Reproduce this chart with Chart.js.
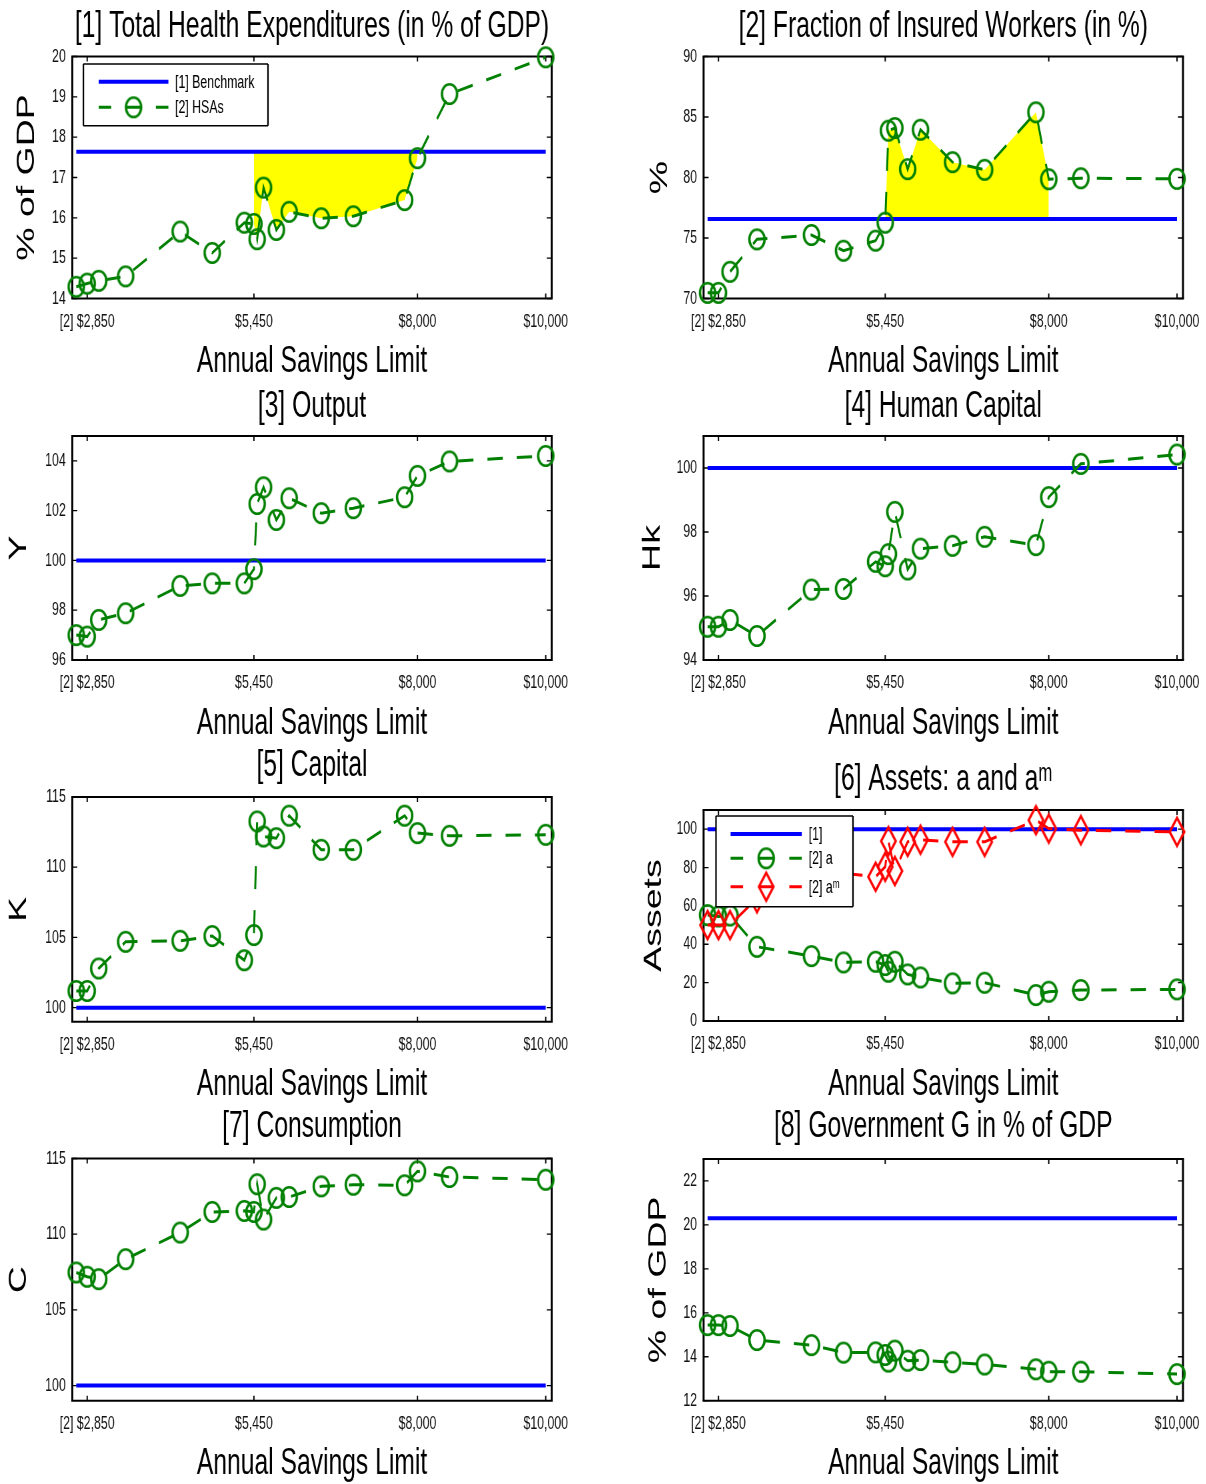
<!DOCTYPE html>
<html>
<head>
<meta charset="utf-8">
<script src="https://cdn.jsdelivr.net/npm/chart.js@4.4.1/dist/chart.umd.min.js"></script>
<style>
html,body{margin:0;padding:0;background:#fff;}
#wrap{position:relative;width:1206px;height:1484px;overflow:hidden;background:#fff;}
</style>
</head>
<body>
<div id="wrap"></div>
<script>
// ---------------- DATA ----------------
const savingsLimit = [2680, 2850, 3030, 3450, 4300, 4800, 5300, 5450, 5500, 5600, 5800, 6000, 6500, 7000, 7800, 8000, 8500, 10000];
const xTickValues = [2850, 5450, 8000, 10000];
const xTickLabels = ['[2] $2,850', '$5,450', '$8,000', '$10,000'];
const xAxisTitle = 'Annual Savings Limit';

const panelTitles = [
  '[1] Total Health Expenditures (in % of GDP)',
  '[2] Fraction of Insured Workers (in %)',
  '[3] Output',
  '[4] Human Capital',
  '[5] Capital',
  '[6] Assets: a and a\u1D50',
  '[7] Consumption',
  '[8] Government G in % of GDP'
];
const yAxisTitles = ['% of GDP', '%', 'Y', 'Hk', 'K', 'Assets', 'C', '% of GDP'];

const healthHSA = [14.29, 14.37, 14.44, 14.55, 15.66, 15.13, 15.88, 15.85, 15.47, 16.75, 15.70, 16.15, 15.99, 16.04, 16.44, 17.48, 19.07, 19.98];
const healthBenchmark = 17.64;
const insuredHSA = [70.47, 70.47, 72.21, 74.89, 75.25, 73.95, 74.78, 76.27, 83.87, 84.09, 80.69, 83.95, 81.27, 80.64, 85.39, 79.86, 79.94, 79.89];
const insuredBenchmark = 76.57;
const outputHSA = [97.00, 96.94, 97.61, 97.88, 98.98, 99.08, 99.08, 99.65, 102.27, 102.94, 101.63, 102.50, 101.90, 102.10, 102.54, 103.40, 103.98, 104.20];
const outputBenchmark = 100;
const humanCapHSA = [95.04, 95.04, 95.25, 94.75, 96.20, 96.22, 97.07, 96.93, 97.31, 98.63, 96.83, 97.48, 97.57, 97.85, 97.59, 99.09, 100.13, 100.42];
const humanCapBenchmark = 100;
const capitalHSA = [101.19, 101.19, 102.79, 104.69, 104.76, 105.10, 103.38, 105.17, 113.26, 112.19, 112.07, 113.67, 111.24, 111.24, 113.67, 112.43, 112.24, 112.31];
const capitalBenchmark = 100;
const assetsA = [55.2, 54.5, 55.0, 38.7, 33.85, 30.56, 30.9, 29.17, 25.7, 30.9, 24.3, 22.74, 19.62, 19.97, 13.54, 15.28, 16.15, 16.49];
const assetsAm = [50, 50, 50, 64, 72, 77, 75.2, 80.4, 93.8, 78.2, 93.4, 94.5, 93.4, 93.4, 104.7, 100.3, 99.5, 98.6];
const assetsBenchmark = 100;
const consumptionHSA = [107.47, 107.19, 107.03, 108.35, 110.11, 111.47, 111.54, 111.47, 113.30, 110.97, 112.40, 112.46, 113.16, 113.27, 113.23, 114.15, 113.78, 113.60];
const consumptionBenchmark = 100;
const govHSA = [15.44, 15.44, 15.40, 14.76, 14.53, 14.19, 14.20, 14.08, 13.78, 14.28, 13.82, 13.85, 13.75, 13.65, 13.43, 13.32, 13.32, 13.21];
const govBenchmark = 20.30;

const shadedRange = [5450, 8000];

const yTicks1 = [14, 15, 16, 17, 18, 19, 20];
const yTicks2 = [70, 75, 80, 85, 90];
const yTicks3 = [96, 98, 100, 102, 104];
const yTicks4 = [94, 96, 98, 100];
const yTicks5 = [100, 105, 110, 115];
const yTicks6 = [0, 20, 40, 60, 80, 100];
const yTicks7 = [100, 105, 110, 115];
const yTicks8 = [12, 14, 16, 18, 20, 22];

const legendLabels1 = ['[1] Benchmark', '[2] HSAs'];
const legendLabels6 = ['[1]', '[2] a', '[2] a\u1D50'];

// ---------------- STYLE ----------------
// The reference figure is stretched vertically; each canvas is drawn 1.5x wider and shown compressed.
const K = 1.5;
const FONT = "'Liberation Sans', Arial, Helvetica, sans-serif";
const TITLE_SIZE = 37, TICK_SIZE = 18.5, YTITLE_SIZE = 37.5, LEGEND_SIZE = 18.5;
const GREEN = '#008000', BLUE = '#0000ff', RED = '#ff0000', YELLOW = '#ffff00';
const X_MIN = 2618, X_MAX = 10093;

function makeEllipse(color, rx, ry, lw) {
  const c = document.createElement('canvas');
  const sw = 2 * rx + lw + 2, sh = 2 * ry + lw + 2;
  c.width = Math.ceil(sw * K); c.height = Math.ceil(sh);
  const g = c.getContext('2d');
  g.scale(K, 1);
  g.strokeStyle = color; g.lineWidth = lw;
  g.beginPath(); g.ellipse(c.width / K / 2, c.height / 2, rx, ry, 0, 0, Math.PI * 2); g.stroke();
  return c;
}
function makeDiamond(color, hw, hh, lw) {
  const c = document.createElement('canvas');
  const sw = 2 * hw + lw + 3, sh = 2 * hh + lw + 3;
  c.width = Math.ceil(sw * K); c.height = Math.ceil(sh);
  const g = c.getContext('2d');
  g.scale(K, 1);
  const cx = c.width / K / 2, cy = c.height / 2;
  g.strokeStyle = color; g.lineWidth = lw; g.lineJoin = 'miter';
  g.beginPath(); g.moveTo(cx, cy - hh); g.lineTo(cx + hw, cy); g.lineTo(cx, cy + hh); g.lineTo(cx - hw, cy); g.closePath(); g.stroke();
  return c;
}
const circleMarker = makeEllipse(GREEN, 7.6, 9.8, 2.4);
const diamondMarker = makeDiamond(RED, 7.3, 14, 2.4);

function pts(ys) { return savingsLimit.map((x, i) => ({x: x, y: ys[i]})); }
function benchPts(v) { return [{x: savingsLimit[0], y: v}, {x: savingsLimit[savingsLimit.length - 1], y: v}]; }
function shadePts(ys) {
  return savingsLimit.map((x, i) => ({x: x, y: ys[i]})).filter(p => p.x >= shadedRange[0] && p.x <= shadedRange[1]);
}
function hsaSet(ys, color, marker, order) {
  return {data: pts(ys), borderColor: color, borderWidth: 3, borderDash: [23, 21], pointStyle: marker,
    pointRadius: 8, pointBackgroundColor: 'rgba(0,0,0,0)', pointBorderColor: color, backgroundColor: 'rgba(0,0,0,0)',
    fill: false, tension: 0, order: order, clip: false};
}
function benchSet(v) {
  return {data: benchPts(v), borderColor: BLUE, borderWidth: 4, pointRadius: 0, fill: false, order: 5, clip: false};
}
function shadeSet(ys, v) {
  return {data: shadePts(ys), borderColor: 'rgba(0,0,0,0)', borderWidth: 0, pointRadius: 0,
    backgroundColor: YELLOW, fill: {value: v}, tension: 0, order: 9};
}

const framePlugin = {
  id: 'frameTicks',
  beforeDatasetsDraw(chart) {
    const {ctx, chartArea: a, scales} = chart;
    const x = scales.x, y = scales.y;
    ctx.save();
    ctx.strokeStyle = '#000';
    ctx.lineWidth = 1.3 * K;
    ctx.beginPath();
    x.ticks.forEach(t => {
      const px = x.getPixelForValue(t.value);
      ctx.moveTo(px, a.bottom); ctx.lineTo(px, a.bottom - 5);
      ctx.moveTo(px, a.top); ctx.lineTo(px, a.top + 5);
    });
    ctx.stroke();
    ctx.lineWidth = 1.3;
    ctx.beginPath();
    y.ticks.forEach(t => {
      const py = y.getPixelForValue(t.value);
      ctx.moveTo(a.left, py); ctx.lineTo(a.left + 5 * K, py);
      ctx.moveTo(a.right, py); ctx.lineTo(a.right - 5 * K, py);
    });
    ctx.stroke();
    ctx.lineWidth = 2;
    ctx.beginPath();
    ctx.moveTo(a.left - K, a.top); ctx.lineTo(a.right + K, a.top);
    ctx.moveTo(a.left - K, a.bottom); ctx.lineTo(a.right + K, a.bottom);
    ctx.stroke();
    ctx.lineWidth = 2 * K;
    ctx.beginPath();
    ctx.moveTo(a.left, a.top); ctx.lineTo(a.left, a.bottom);
    ctx.moveTo(a.right, a.top); ctx.lineTo(a.right, a.bottom);
    ctx.stroke();
    ctx.restore();
  }
};

function legendPlugin(spec) {
  return {
    id: 'boxLegend',
    afterDatasetsDraw(chart) {
      const {ctx, chartArea: a} = chart;
      const bx = a.left + spec.dx * K, by = a.top + spec.dy;
      const bw = spec.w * K, bh = spec.h;
      ctx.save();
      ctx.fillStyle = '#fff'; ctx.fillRect(bx, by, bw, bh);
      ctx.strokeStyle = '#000';
      ctx.lineWidth = 1.5; ctx.beginPath();
      ctx.moveTo(bx, by); ctx.lineTo(bx + bw, by); ctx.moveTo(bx, by + bh); ctx.lineTo(bx + bw, by + bh); ctx.stroke();
      ctx.lineWidth = 1.5 * K; ctx.beginPath();
      ctx.moveTo(bx, by); ctx.lineTo(bx, by + bh); ctx.moveTo(bx + bw, by); ctx.lineTo(bx + bw, by + bh); ctx.stroke();
      spec.items.forEach((it, i) => {
        const yy = by + spec.rows[i];
        const x0 = bx + spec.sx0 * K, x1 = bx + spec.sx1 * K, xm = (x0 + x1) / 2;
        ctx.strokeStyle = it.color;
        ctx.beginPath();
        if (!it.marker) {
          ctx.lineWidth = 4; ctx.moveTo(x0, yy); ctx.lineTo(x1, yy);
          ctx.stroke();
        } else {
          ctx.lineWidth = 3;
          ctx.moveTo(x0, yy); ctx.lineTo(x0 + 12.5 * K, yy);
          ctx.moveTo(x1 - 12.5 * K, yy); ctx.lineTo(x1, yy);
          ctx.moveTo(xm - 7 * K, yy); ctx.lineTo(xm + 7 * K, yy);
          ctx.stroke();
          ctx.drawImage(it.marker, xm - it.marker.width / 2, yy - it.marker.height / 2);
        }
        ctx.fillStyle = '#000'; ctx.font = LEGEND_SIZE + 'px ' + FONT; ctx.textBaseline = 'middle'; ctx.textAlign = 'left';
        ctx.fillText(spec.labels[i], bx + spec.tx * K, yy + 1);
      });
      ctx.restore();
    }
  };
}

// ---------------- PANELS (layout, screen px) ----------------
const panels = [
  {col: 0, top: 0, h: 385, plotT: 56.5, plotB: 298.5, titleMid: 26.3, yMid: 26.8, title: panelTitles[0], yTitle: yAxisTitles[0], yMin: 14, yMax: 20, yTicks: yTicks1,
   datasets: [hsaSet(healthHSA, GREEN, circleMarker, 1), benchSet(healthBenchmark), shadeSet(healthHSA, healthBenchmark)],
   legend: {dx: 11.1, dy: 7.5, w: 184.6, h: 61.7, rows: [17.7, 43.3], sx0: 15.3, sx1: 85, tx: 91.6, labels: legendLabels1,
            items: [{color: BLUE}, {color: GREEN, marker: circleMarker}]}},
  {col: 1, top: 0, h: 385, plotT: 56.5, plotB: 298.5, titleMid: 26.3, yMid: 57, title: panelTitles[1], yTitle: yAxisTitles[1], yMin: 70, yMax: 90, yTicks: yTicks2,
   datasets: [hsaSet(insuredHSA, GREEN, circleMarker, 1), benchSet(insuredBenchmark), shadeSet(insuredHSA, insuredBenchmark)]},
  {col: 0, top: 385, h: 360, plotT: 436, plotB: 660, titleMid: 406.3, yMid: 19.1, title: panelTitles[2], yTitle: yAxisTitles[2], yMin: 96, yMax: 105, yTicks: yTicks3,
   datasets: [hsaSet(outputHSA, GREEN, circleMarker, 1), benchSet(outputBenchmark)]},
  {col: 1, top: 385, h: 360, plotT: 436, plotB: 660, titleMid: 406.3, yMid: 50, title: panelTitles[3], yTitle: yAxisTitles[3], yMin: 94, yMax: 101, yTicks: yTicks4,
   datasets: [hsaSet(humanCapHSA, GREEN, circleMarker, 1), benchSet(humanCapBenchmark)]},
  {col: 0, top: 745, h: 360, plotT: 797, plotB: 1021.7, titleMid: 765.8, yMid: 19.1, title: panelTitles[4], yTitle: yAxisTitles[4], yMin: 99, yMax: 115, yTicks: yTicks5,
   datasets: [hsaSet(capitalHSA, GREEN, circleMarker, 1), benchSet(capitalBenchmark)]},
  {col: 1, top: 745, h: 360, plotT: 810, plotB: 1021, titleMid: 780, yMid: 51, title: panelTitles[5], yTitle: yAxisTitles[5], yMin: 0, yMax: 110, yTicks: yTicks6,
   datasets: [hsaSet(assetsAm, RED, diamondMarker, 0), hsaSet(assetsA, GREEN, circleMarker, 1), benchSet(assetsBenchmark)],
   legend: {dx: 12.4, dy: 6, w: 137, h: 90.7, rows: [18, 42.3, 70.7], sx0: 14.6, sx1: 85.8, tx: 92.7, labels: legendLabels6,
            items: [{color: BLUE}, {color: GREEN, marker: circleMarker}, {color: RED, marker: diamondMarker}]}},
  {col: 0, top: 1105, h: 379, plotT: 1158.5, plotB: 1400.7, titleMid: 1126.8, yMid: 19.1, title: panelTitles[6], yTitle: yAxisTitles[6], yMin: 99, yMax: 115, yTicks: yTicks7,
   datasets: [hsaSet(consumptionHSA, GREEN, circleMarker, 1), benchSet(consumptionBenchmark)]},
  {col: 1, top: 1105, h: 379, plotT: 1159, plotB: 1400.7, titleMid: 1126.8, yMid: 56, title: panelTitles[7], yTitle: yAxisTitles[7], yMin: 12, yMax: 23, yTicks: yTicks8,
   datasets: [hsaSet(govHSA, GREEN, circleMarker, 1), benchSet(govBenchmark)]}
];

const wrap = document.getElementById('wrap');
const XTITLE_GAP = 63.5;         // plot bottom -> x title middle
const XH = XTITLE_GAP + TITLE_SIZE / 2;
const TICK_GAP = 23.4;           // plot bottom -> tick label middle

panels.forEach(p => {
  const SW = p.col === 0 ? 602 : 640;          // screen width of canvas
  const CW = SW * K;                            // canvas drawing width
  const colLeft = p.col === 0 ? 0 : 603;
  const plotL = (p.col === 0 ? 72.3 : 100.6) * K;
  const plotR = (p.col === 0 ? 551.7 : 580) * K;
  const plotT = p.plotT - p.top, plotB = p.plotB - p.top, titleMid = p.titleMid - p.top;
  const cv = document.createElement('canvas');
  cv.width = CW; cv.height = p.h;
  cv.style.cssText = 'position:absolute;left:' + colLeft + 'px;top:' + p.top + 'px;width:' + SW + 'px;height:' + p.h + 'px;';
  wrap.appendChild(cv);
  const plugins = [framePlugin];
  if (p.legend) plugins.push(legendPlugin(p.legend));
  const yt = p.yTicks;
  new Chart(cv, {
    type: 'line',
    data: {datasets: p.datasets},
    options: {
      responsive: false, animation: false, devicePixelRatio: 1, events: [],
      layout: {padding: {top: titleMid - TITLE_SIZE / 2, left: 0, right: CW - plotR, bottom: Math.max(0, p.h - plotB - XH)}},
      plugins: {
        legend: {display: false},
        tooltip: {enabled: false},
        title: {display: true, text: p.title, fullSize: false, color: '#000',
                font: {family: FONT, size: TITLE_SIZE, weight: 'normal', lineHeight: 1},
                padding: {top: 0, bottom: plotT - titleMid - TITLE_SIZE / 2}}
      },
      scales: {
        x: {
          type: 'linear', min: X_MIN, max: X_MAX,
          afterBuildTicks: s => { s.ticks = xTickValues.map(v => ({value: v})); },
          afterFit: s => { s.height = p.h - plotB - Math.max(0, p.h - plotB - XH); },
          ticks: {callback: v => { const k = xTickValues.indexOf(v); return k >= 0 ? xTickLabels[k] : ''; },
                  font: {family: FONT, size: TICK_SIZE, lineHeight: 1.2}, color: '#111',
                  padding: TICK_GAP - TICK_SIZE * 0.6, maxRotation: 0, autoSkip: false},
          grid: {display: false, drawTicks: false},
          border: {display: false},
          title: {display: true, text: xAxisTitle, color: '#000', font: {family: FONT, size: TITLE_SIZE, lineHeight: 1}, padding: 0}
        },
        y: {
          type: 'linear', min: p.yMin, max: p.yMax,
          afterBuildTicks: s => { s.ticks = yt.map(v => ({value: v})); },
          afterFit: s => { s.width = plotL; },
          ticks: {callback: v => String(v), font: {family: FONT, size: TICK_SIZE}, color: '#111', padding: 6.5 * K, autoSkip: false},
          grid: {display: false, drawTicks: false},
          border: {display: false},
          title: {display: true, text: p.yTitle, color: '#000', font: {family: FONT, size: YTITLE_SIZE, lineHeight: 1},
                  padding: {top: p.yMid * K - YTITLE_SIZE / 2, bottom: 0}}
        }
      }
    },
    plugins: plugins
  });
});
</script>
</body>
</html>
